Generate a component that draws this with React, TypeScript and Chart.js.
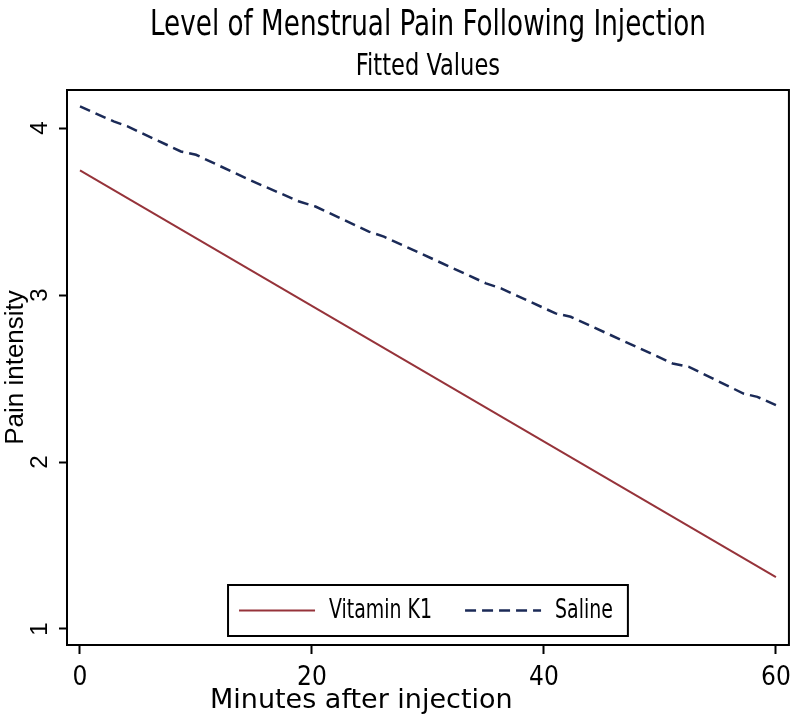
import React, { useEffect, useRef } from 'react';
import { Chart, registerables } from 'chart.js';

Chart.register(...registerables);

const titleText = 'Level of Menstrual Pain Following Injection';
const subtitleText = 'Fitted Values';
const xTitle = 'Minutes after injection';
const yTitle = 'Pain intensity';
const seriesNames = ['Vitamin K1', 'Saline'];

const vitaminMinutes = [0, 60];
const vitaminPain = [3.747, 1.31];

const salineMinutes = [0, 2.9, 4.1, 8.7, 10, 14.6, 18.9, 20.3, 24.9, 26.2, 35, 36.3, 41, 42.3, 51.1, 52.5, 57.2, 58.4, 60];
const salinePain = [4.13, 4.04, 4.01, 3.86, 3.84, 3.69, 3.56, 3.53, 3.38, 3.35, 3.07, 3.04, 2.89, 2.87, 2.59, 2.57, 2.41, 2.39, 2.34];

const xTicks = [0, 20, 40, 60];
const yTicks = [1, 2, 3, 4];
const xRange = [-1.12, 61.12];
const yRange = [0.904, 4.228];

const COND = "'DejaVu Sans Condensed', 'DejaVu Sans', sans-serif";
const WIDE = "'DejaVu Sans', sans-serif";
const REG = "'Liberation Sans', Arial, sans-serif";
const NARROW_X = 0.81;

function drawScaledText(ctx: any, text: string, x: number, y: number, font: string, sx: number, align: string) {
  ctx.save();
  ctx.font = font;
  ctx.fillStyle = '#000';
  ctx.textBaseline = 'middle';
  ctx.textAlign = align;
  ctx.translate(x, y);
  ctx.scale(sx, 1);
  ctx.fillText(text, 0, 0);
  ctx.restore();
}

const textPlugin = {
  id: 'stataText',
  afterDraw(chart: any) {
    const { ctx, chartArea } = chart;
    const cx = (chartArea.left + chartArea.right) / 2;
    drawScaledText(ctx, titleText, cx, 26, `36px ${COND}`, NARROW_X, 'center');
    drawScaledText(ctx, subtitleText, cx, 67, `31px ${COND}`, NARROW_X, 'center');
    drawScaledText(ctx, xTitle, 210, 701, `27px ${WIDE}`, 1, 'left');
  },
};

const framePlugin = {
  id: 'frame',
  afterDraw(chart: any) {
    const { ctx, chartArea } = chart;
    ctx.save();
    ctx.strokeStyle = '#000';
    ctx.lineWidth = 2;
    ctx.strokeRect(chartArea.left, chartArea.top, chartArea.right - chartArea.left, chartArea.bottom - chartArea.top);
    ctx.restore();
  },
};

const legendPlugin = {
  id: 'boxLegend',
  afterDraw(chart: any) {
    const { ctx, chartArea } = chart;
    const ds = chart.data.datasets;
    const font = `26px ${COND}`;
    ctx.save();
    ctx.font = font;
    const padL = 11, sample = 76, gapT = 14, gapItem = 33, padR = 15;
    const widths = ds.map((d: any) => ctx.measureText(d.label).width * NARROW_X);
    let total = padL + padR;
    widths.forEach((w: number, i: number) => {
      total += sample + gapT + w + (i < widths.length - 1 ? gapItem : 0);
    });
    const h = 51;
    const cx = (chartArea.left + chartArea.right) / 2;
    const left = cx - total / 2;
    const bottom = chartArea.bottom - 9;
    const top = bottom - h;
    ctx.fillStyle = '#fff';
    ctx.fillRect(left, top, total, h);
    ctx.strokeStyle = '#000';
    ctx.lineWidth = 2;
    ctx.strokeRect(left, top, total, h);
    const cy = top + h / 2;
    let x = left + padL;
    ds.forEach((d: any, i: number) => {
      ctx.beginPath();
      ctx.strokeStyle = d.borderColor;
      ctx.lineWidth = d.borderWidth;
      ctx.setLineDash(d.borderDash || []);
      ctx.moveTo(x, cy);
      ctx.lineTo(x + sample, cy);
      ctx.stroke();
      ctx.setLineDash([]);
      x += sample + gapT;
      drawScaledText(ctx, d.label, x, cy + 1, font, NARROW_X, 'left');
      x += widths[i] + gapItem;
    });
    ctx.restore();
  },
};

export default function App() {
  const ref = useRef<HTMLCanvasElement>(null);
  useEffect(() => {
    if (!ref.current) return;
    const chart = new Chart(ref.current, {
      type: 'line',
      data: {
        datasets: [
          {
            label: seriesNames[0],
            data: vitaminMinutes.map((m, i) => ({ x: m, y: vitaminPain[i] })),
            borderColor: '#96333a',
            borderWidth: 2,
            pointRadius: 0,
            tension: 0,
            fill: false,
          },
          {
            label: seriesNames[1],
            data: salineMinutes.map((m, i) => ({ x: m, y: salinePain[i] })),
            borderColor: '#1b2a57',
            borderWidth: 2.5,
            borderDash: [11, 6],
            pointRadius: 0,
            tension: 0,
            fill: false,
          },
        ],
      },
      options: {
        responsive: false,
        animation: false,
        layout: { padding: { left: 0, right: 10, top: 90, bottom: 0 } },
        plugins: {
          legend: { display: false },
          tooltip: { enabled: false },
          title: { display: false },
          subtitle: { display: false },
        },
        scales: {
          x: {
            type: 'linear',
            min: xRange[0],
            max: xRange[1],
            afterBuildTicks: (s: any) => { s.ticks = xTicks.map((v) => ({ value: v })); },
            afterFit: (s: any) => { s.height = 79; },
            ticks: {
              color: '#000',
              font: { family: COND, size: 26 },
              padding: 9,
              maxRotation: 0,
              minRotation: 0,
              autoSkip: false,
              callback: (v: any) => String(v),
            },
            grid: { drawOnChartArea: false, drawTicks: true, tickLength: 9, tickWidth: 2, tickColor: '#000' },
            border: { display: false },
            title: { display: false },
          },
          y: {
            type: 'linear',
            min: yRange[0],
            max: yRange[1],
            afterBuildTicks: (s: any) => { s.ticks = yTicks.map((v) => ({ value: v })); },
            afterFit: (s: any) => { s.width = 67; },
            ticks: {
              color: '#000',
              font: { family: REG, size: 24 },
              padding: 12,
              minRotation: 90,
              maxRotation: 90,
              crossAlign: 'center',
              autoSkip: false,
              callback: (v: any) => String(v),
            },
            grid: { drawOnChartArea: false, drawTicks: true, tickLength: 8, tickWidth: 2, tickColor: '#000' },
            border: { display: false },
            title: {
              display: true,
              text: yTitle,
              color: '#000',
              font: { family: REG, size: 26 },
              padding: { top: 0, bottom: 0 },
            },
          },
        },
      },
      plugins: [framePlugin, legendPlugin, textPlugin],
    } as any);
    return () => chart.destroy();
  }, []);
  return (
    <div style={{ position: 'absolute', left: 0, top: 0, width: 800, height: 724, background: '#fff' }}>
      <canvas ref={ref} width={800} height={724} style={{ display: 'block' }} />
    </div>
  );
}
